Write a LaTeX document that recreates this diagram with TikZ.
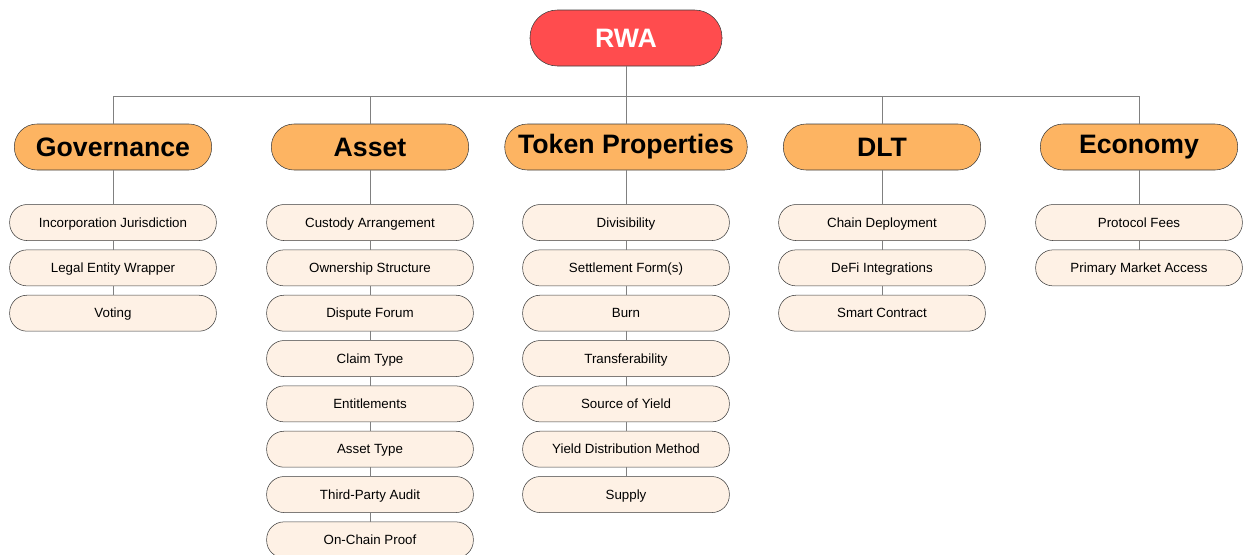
\documentclass[tikz,border=0pt]{standalone}
\usepackage{fontspec}
\setmainfont{Liberation Sans}
\usetikzlibrary{positioning}

\definecolor{rwared}{RGB}{255,76,78}
\definecolor{catorange}{RGB}{253,180,98}
\definecolor{leafpeach}{RGB}{254,241,229}
\definecolor{edgegray}{RGB}{60,60,60}
\definecolor{linkgray}{RGB}{128,128,128}

\tikzset{
  root/.style={draw=edgegray, fill=rwared, text=white, rounded corners=20.5pt,
    minimum width=144pt, minimum height=42pt, inner xsep=10pt,
    font=\fontsize{20}{24}\selectfont\bfseries},
  cat/.style={draw=edgegray, fill=catorange, rounded corners=17pt,
    minimum width=148pt, minimum height=34.5pt, inner xsep=10pt, inner ysep=1pt,
    font=\fontsize{20}{24}\selectfont\bfseries},
  leaf/.style={draw=edgegray, fill=leafpeach, rounded corners=13pt,
    minimum width=155pt, minimum height=27pt, inner ysep=1pt,
    text height=8.5pt, text depth=1.5pt,
    font=\fontsize{10}{12}\selectfont},
  link/.style={draw=linkgray, line width=0.6pt}
}

\newcommand{\leafcol}[2]{
  % column of leaves hanging under node #1
  \foreach \txt [count=\i, remember=\i as \j (initially 0)] in {#2} {
    \ifnum\i=1
      \node[leaf, below=25.5pt of #1] (#1-\i) {\txt};
      \draw[link] (#1) -- (#1-\i);
    \else
      \node[leaf, below=6.6pt of #1-\j] (#1-\i) {\txt};
      \draw[link] (#1-\j) -- (#1-\i);
    \fi
  }
}

\begin{document}
\begin{tikzpicture}[x=0.75pt, y=-0.75pt]
\useasboundingbox (0, 0) rectangle (1244, 554);

\node[root] (rwa) at (626, 38) {RWA};
\coordinate (bus) at (626, 96);

\node[cat] (gov) at (113, 147) {Governance};
\node[cat] (asset) at (370, 147) {Asset};
\node[cat] (token) at (626, 147) {Token Properties};
\node[cat] (dlt) at (882, 147) {DLT};
\node[cat] (econ) at (1139, 147) {Economy};

\foreach \c in {gov, asset, token, dlt, econ}
  \draw[link] (rwa.south) -- (bus) -| (\c.north);

\leafcol{gov}{Incorporation Jurisdiction, Legal Entity Wrapper, Voting}
\leafcol{asset}{Custody Arrangement, Ownership Structure, Dispute Forum, Claim Type,
  Entitlements, Asset Type, Third-Party Audit, On-Chain Proof}
\leafcol{token}{Divisibility, Settlement Form(s), Burn, Transferability,
  Source of Yield, Yield Distribution Method, Supply}
\leafcol{dlt}{Chain Deployment, DeFi Integrations, Smart Contract}
\leafcol{econ}{Protocol Fees, Primary Market Access}
\end{tikzpicture}
\end{document}
